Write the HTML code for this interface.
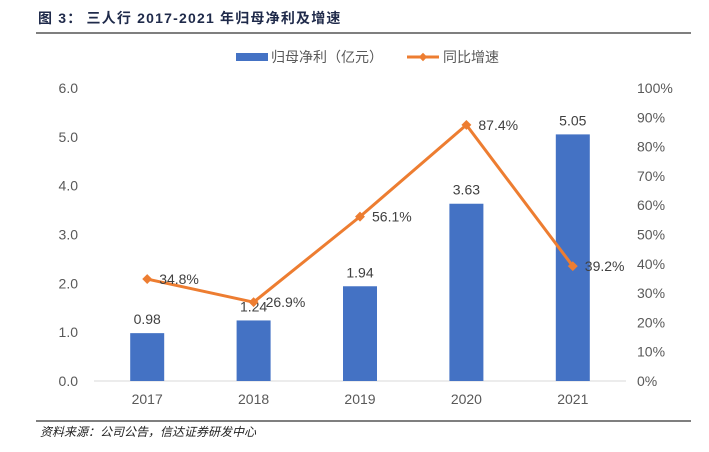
<!DOCTYPE html>
<html><head><meta charset="utf-8"><style>
body{margin:0;background:#fff;font-family:"Liberation Sans","Noto Sans CJK SC",sans-serif}
</style></head><body>
<svg width="709" height="447" viewBox="0 0 709 447" xmlns="http://www.w3.org/2000/svg">
<text x="38" y="23" font-size="14" font-weight="bold" fill="#1f2a4a" letter-spacing="1.2">图 3：<tspan dx="4">三人行 2017-2021 年归母净利及增速</tspan></text>
<line x1="36" y1="33" x2="691" y2="33" stroke="#333" stroke-width="1.2"/>
<g>
<rect x="236" y="53" width="32" height="8" fill="#4472C4"/>
<text x="271" y="62" font-size="14" fill="#595959">归母净利（亿元）</text>
<line x1="407" y1="57" x2="439" y2="57" stroke="#ED7D31" stroke-width="3"/>
<rect x="420" y="54" width="6" height="6" fill="#ED7D31" transform="rotate(45 423 57)"/>
<text x="443" y="62" font-size="14" fill="#595959">同比增速</text>
</g>
<g id="axes"></g>
<g id="marks"></g>
<line x1="36" y1="421" x2="691" y2="421" stroke="#333" stroke-width="1.2"/>
<text x="40" y="436" font-size="12" font-style="italic" fill="#222">资料来源：公司公告，信达证券研发中心</text>
</svg>
<script>
const categories=["2017","2018","2019","2020","2021"];
const profit=[0.98,1.24,1.94,3.63,5.05];
const growth=[34.8,26.9,56.1,87.4,39.2];
const leftTicks=["0.0","1.0","2.0","3.0","4.0","5.0","6.0"];
const rightTicks=["0%","10%","20%","30%","40%","50%","60%","70%","80%","90%","100%"];
const NS="http://www.w3.org/2000/svg";
const x0=94,x1=626,yTop=88,yBot=381;
const band=(x1-x0)/categories.length;
const xc=i=>x0+band*(i+0.5);
const yL=v=>yBot-(v/6)*(yBot-yTop);
const yR=v=>yBot-(v/100)*(yBot-yTop);
function mk(t,a,p){const e=document.createElementNS(NS,t);for(const k in a)e.setAttribute(k,a[k]);p.appendChild(e);return e;}
const ax=document.getElementById('axes'),mg=document.getElementById('marks');
const base=mk('line',{x1:x0,y1:yBot,x2:x1,y2:yBot,stroke:'#d9d9d9','stroke-width':1},ax);


leftTicks.forEach((t,i)=>{const e=mk('text',{x:78,y:yL(i)+5,'font-size':14,fill:'#595959','text-anchor':'end'},ax);e.textContent=t;

});
rightTicks.forEach((t,i)=>{const e=mk('text',{x:637,y:yR(i*10)+5,'font-size':14,fill:'#595959'},ax);e.textContent=t;

});
categories.forEach((c,i)=>{const e=mk('text',{x:xc(i),y:404,'font-size':14,fill:'#595959','text-anchor':'middle'},ax);e.textContent=c;

});
profit.forEach((v,i)=>{const r=mk('rect',{x:xc(i)-17,y:yL(v),width:34,height:yBot-yL(v),fill:'#4472C4'},mg);


const t=mk('text',{x:xc(i),y:yL(v)-9,'font-size':14,fill:'#404040','text-anchor':'middle'},mg);t.textContent=v.toFixed(2);

});
const pl=mk('polyline',{points:growth.map((v,i)=>xc(i)+','+yR(v)).join(' '),fill:'none',stroke:'#ED7D31','stroke-width':3,'stroke-linejoin':'round'},mg);


growth.forEach((v,i)=>{const d=mk('rect',{x:xc(i)-3.5,y:yR(v)-3.5,width:7,height:7,fill:'#ED7D31',transform:`rotate(45 ${xc(i)} ${yR(v)})`},mg);


const t=mk('text',{x:xc(i)+12,y:yR(v)+5,'font-size':14,fill:'#404040'},mg);t.textContent=v.toFixed(1)+'%';

});
</script>
</body></html>
